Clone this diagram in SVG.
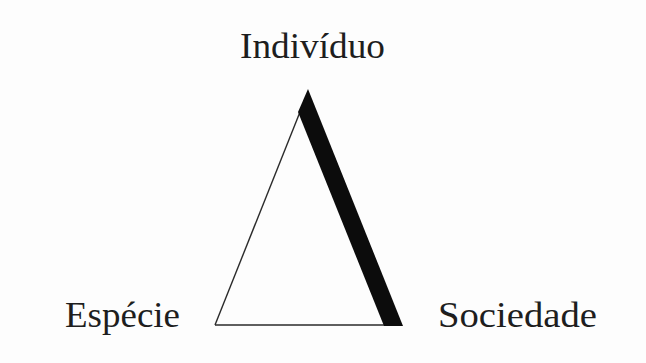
<svg xmlns="http://www.w3.org/2000/svg" width="646" height="363" viewBox="0 0 646 363">
<style>
.lbl{font-family:"Liberation Serif","DejaVu Serif",serif;font-size:36px;fill:#1e1e1e}
.thin{stroke:#2a2a2a;stroke-width:1.4;fill:none}
</style>
<rect width="646" height="363" fill="#fdfdfd"/>
<g id="connectors">
<line class="thin" x1="300" y1="112" x2="215" y2="325"/>
<line class="thin" x1="215" y1="325" x2="402" y2="325"/>
<polygon points="308,89 403,326 384,326 298,112" fill="#0c0c0c"/>
</g>
<g id="individuo"><text class="lbl" x="240" y="58" textLength="145" lengthAdjust="spacingAndGlyphs">Indivíduo</text></g>
<g id="especie"><text class="lbl" x="65" y="327" textLength="115" lengthAdjust="spacingAndGlyphs">Espécie</text></g>
<g id="sociedade"><text class="lbl" x="438" y="327" textLength="159" lengthAdjust="spacingAndGlyphs">Sociedade</text></g>
</svg>
